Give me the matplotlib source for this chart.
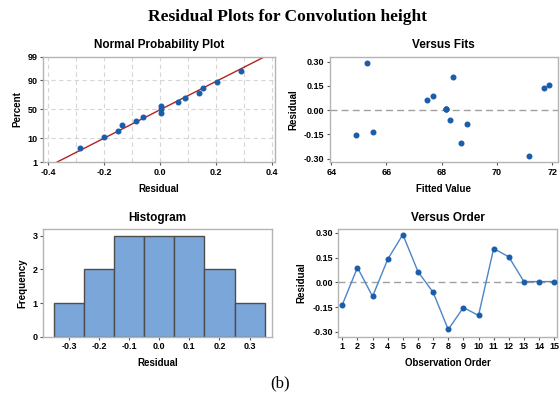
import matplotlib
matplotlib.use('Agg')
import matplotlib.pyplot as plt
import numpy as np
from statistics import NormalDist

# 残差数据（按观测顺序）
order = np.arange(1, 16)
residuals = np.array([-0.135, 0.09, -0.085, 0.14, 0.29, 0.065, -0.06, -0.285,
                      -0.152, -0.2, 0.205, 0.155, 0.005, 0.005, 0.005])
fitted = np.array([65.5, 67.7, 68.9, 71.7, 65.3, 67.45, 68.3, 71.15,
                   64.9, 68.7, 68.4, 71.9, 68.15, 68.15, 68.15])
hist_edges = [-0.35, -0.25, -0.15, -0.05, 0.05, 0.15, 0.25, 0.35]
pct_ticks = [1, 10, 50, 90, 99]

BLUE = '#1A5DAB'
LINE_BLUE = '#4A86C8'
BAR = '#7BA6DA'
SPINE = '#B4B4B4'
SANS = ['Liberation Sans', 'DejaVu Sans']
nd = NormalDist()


def style(ax):
    for s in ax.spines.values():
        s.set_color(SPINE)
        s.set_linewidth(1.0)
    ax.tick_params(length=2.5, width=0.8, color='#555555', pad=1.5, labelsize=6.5)
    for lab in ax.get_xticklabels() + ax.get_yticklabels():
        lab.set_fontweight('bold')
        lab.set_family(SANS)


def titles(ax, title, xlabel, ylabel):
    ax.set_title(title, fontsize=8.5, fontweight='bold', family=SANS, pad=6)
    ax.set_xlabel(xlabel, fontsize=7, fontweight='bold', family=SANS, labelpad=5)
    ax.set_ylabel(ylabel, fontsize=7, fontweight='bold', family=SANS, labelpad=4)


fig = plt.figure(figsize=(5.6, 4.03), dpi=100)
fig.text(0.513, 0.958, 'Residual Plots for Convolution height', ha='center', va='center',
         fontsize=12.5, fontweight='bold', family='Liberation Serif')
fig.text(0.5, 0.048, '(b)', ha='center', va='center', fontsize=12, family='Liberation Serif')

# ========== 1. 正态概率图 ==========
ax1 = fig.add_axes([0.077, 0.598, 0.414, 0.261])
n = len(residuals)
sorted_res = np.sort(residuals)
probs = (np.arange(1, n + 1) - 0.3) / (n + 0.4)
z = np.array([nd.inv_cdf(p) for p in probs])
mu, sd = residuals.mean(), residuals.std(ddof=1)
z_lo, z_hi = nd.inv_cdf(0.01), nd.inv_cdf(0.99)
ax1.plot([mu + z_lo * sd, mu + z_hi * sd], [z_lo, z_hi], color='#B22222', lw=1.0, zorder=2)
ax1.plot(sorted_res, z, 'o', color=BLUE, ms=3.3, zorder=3)
ax1.set_xlim(-0.418, 0.411)
ax1.set_ylim(z_lo, z_hi)
ax1.set_xticks([-0.4, -0.2, 0.0, 0.2, 0.4])
ax1.set_xticklabels(['-0.4', '-0.2', '0.0', '0.2', '0.4'])
ax1.set_yticks([nd.inv_cdf(p / 100) for p in pct_ticks])
ax1.set_yticklabels([str(p) for p in pct_ticks])
for gx in np.arange(-0.4, 0.41, 0.1):
    ax1.axvline(gx, color='#D6D6D6', ls=(0, (4, 3)), lw=0.8, zorder=1)
for p in pct_ticks[1:-1]:
    ax1.axhline(nd.inv_cdf(p / 100), color='#D6D6D6', ls=(0, (4, 3)), lw=0.8, zorder=1)
titles(ax1, 'Normal Probability Plot', 'Residual', 'Percent')
style(ax1)

# ========== 2. 残差-拟合值 ==========
ax2 = fig.add_axes([0.589, 0.598, 0.407, 0.261])
ax2.plot(fitted, residuals, 'o', color=BLUE, ms=3.3, zorder=3)
ax2.axhline(0, color='#A0A0A0', ls=(0, (5, 3)), lw=1.0, zorder=1)
ax2.set_xlim(63.95, 72.2)
ax2.set_ylim(-0.32, 0.33)
ax2.set_xticks([64, 66, 68, 70, 72])
ax2.set_yticks([-0.30, -0.15, 0.0, 0.15, 0.30])
ax2.set_yticklabels(['-0.30', '-0.15', '0.00', '0.15', '0.30'])
titles(ax2, 'Versus Fits', 'Fitted Value', 'Residual')
style(ax2)

# ========== 3. 直方图 ==========
ax3 = fig.add_axes([0.077, 0.164, 0.409, 0.268])
ax3.hist(residuals, bins=hist_edges, color=BAR, edgecolor='#4D4D4D', linewidth=1.0)
ax3.set_xlim(-0.386, 0.375)
ax3.set_ylim(0, 3.2)
ax3.set_xticks([-0.3, -0.2, -0.1, 0.0, 0.1, 0.2, 0.3])
ax3.set_xticklabels(['-0.3', '-0.2', '-0.1', '0.0', '0.1', '0.2', '0.3'])
ax3.set_yticks([0, 1, 2, 3])
titles(ax3, 'Histogram', 'Residual', 'Frequency')
style(ax3)

# ========== 4. 残差-观测顺序 ==========
ax4 = fig.add_axes([0.604, 0.164, 0.391, 0.268])
ax4.plot(order, residuals, '-', color=LINE_BLUE, lw=1.0, zorder=2)
ax4.plot(order, residuals, 'o', color=BLUE, ms=3.3, zorder=3)
ax4.axhline(0, color='#A0A0A0', ls=(0, (5, 3)), lw=1.0, zorder=1)
ax4.set_xlim(0.73, 15.2)
ax4.set_ylim(-0.33, 0.324)
ax4.set_xticks(order)
ax4.set_yticks([-0.30, -0.15, 0.0, 0.15, 0.30])
ax4.set_yticklabels(['-0.30', '-0.15', '0.00', '0.15', '0.30'])
titles(ax4, 'Versus Order', 'Observation Order', 'Residual')
style(ax4)

plt.savefig('out.png', dpi=100)
